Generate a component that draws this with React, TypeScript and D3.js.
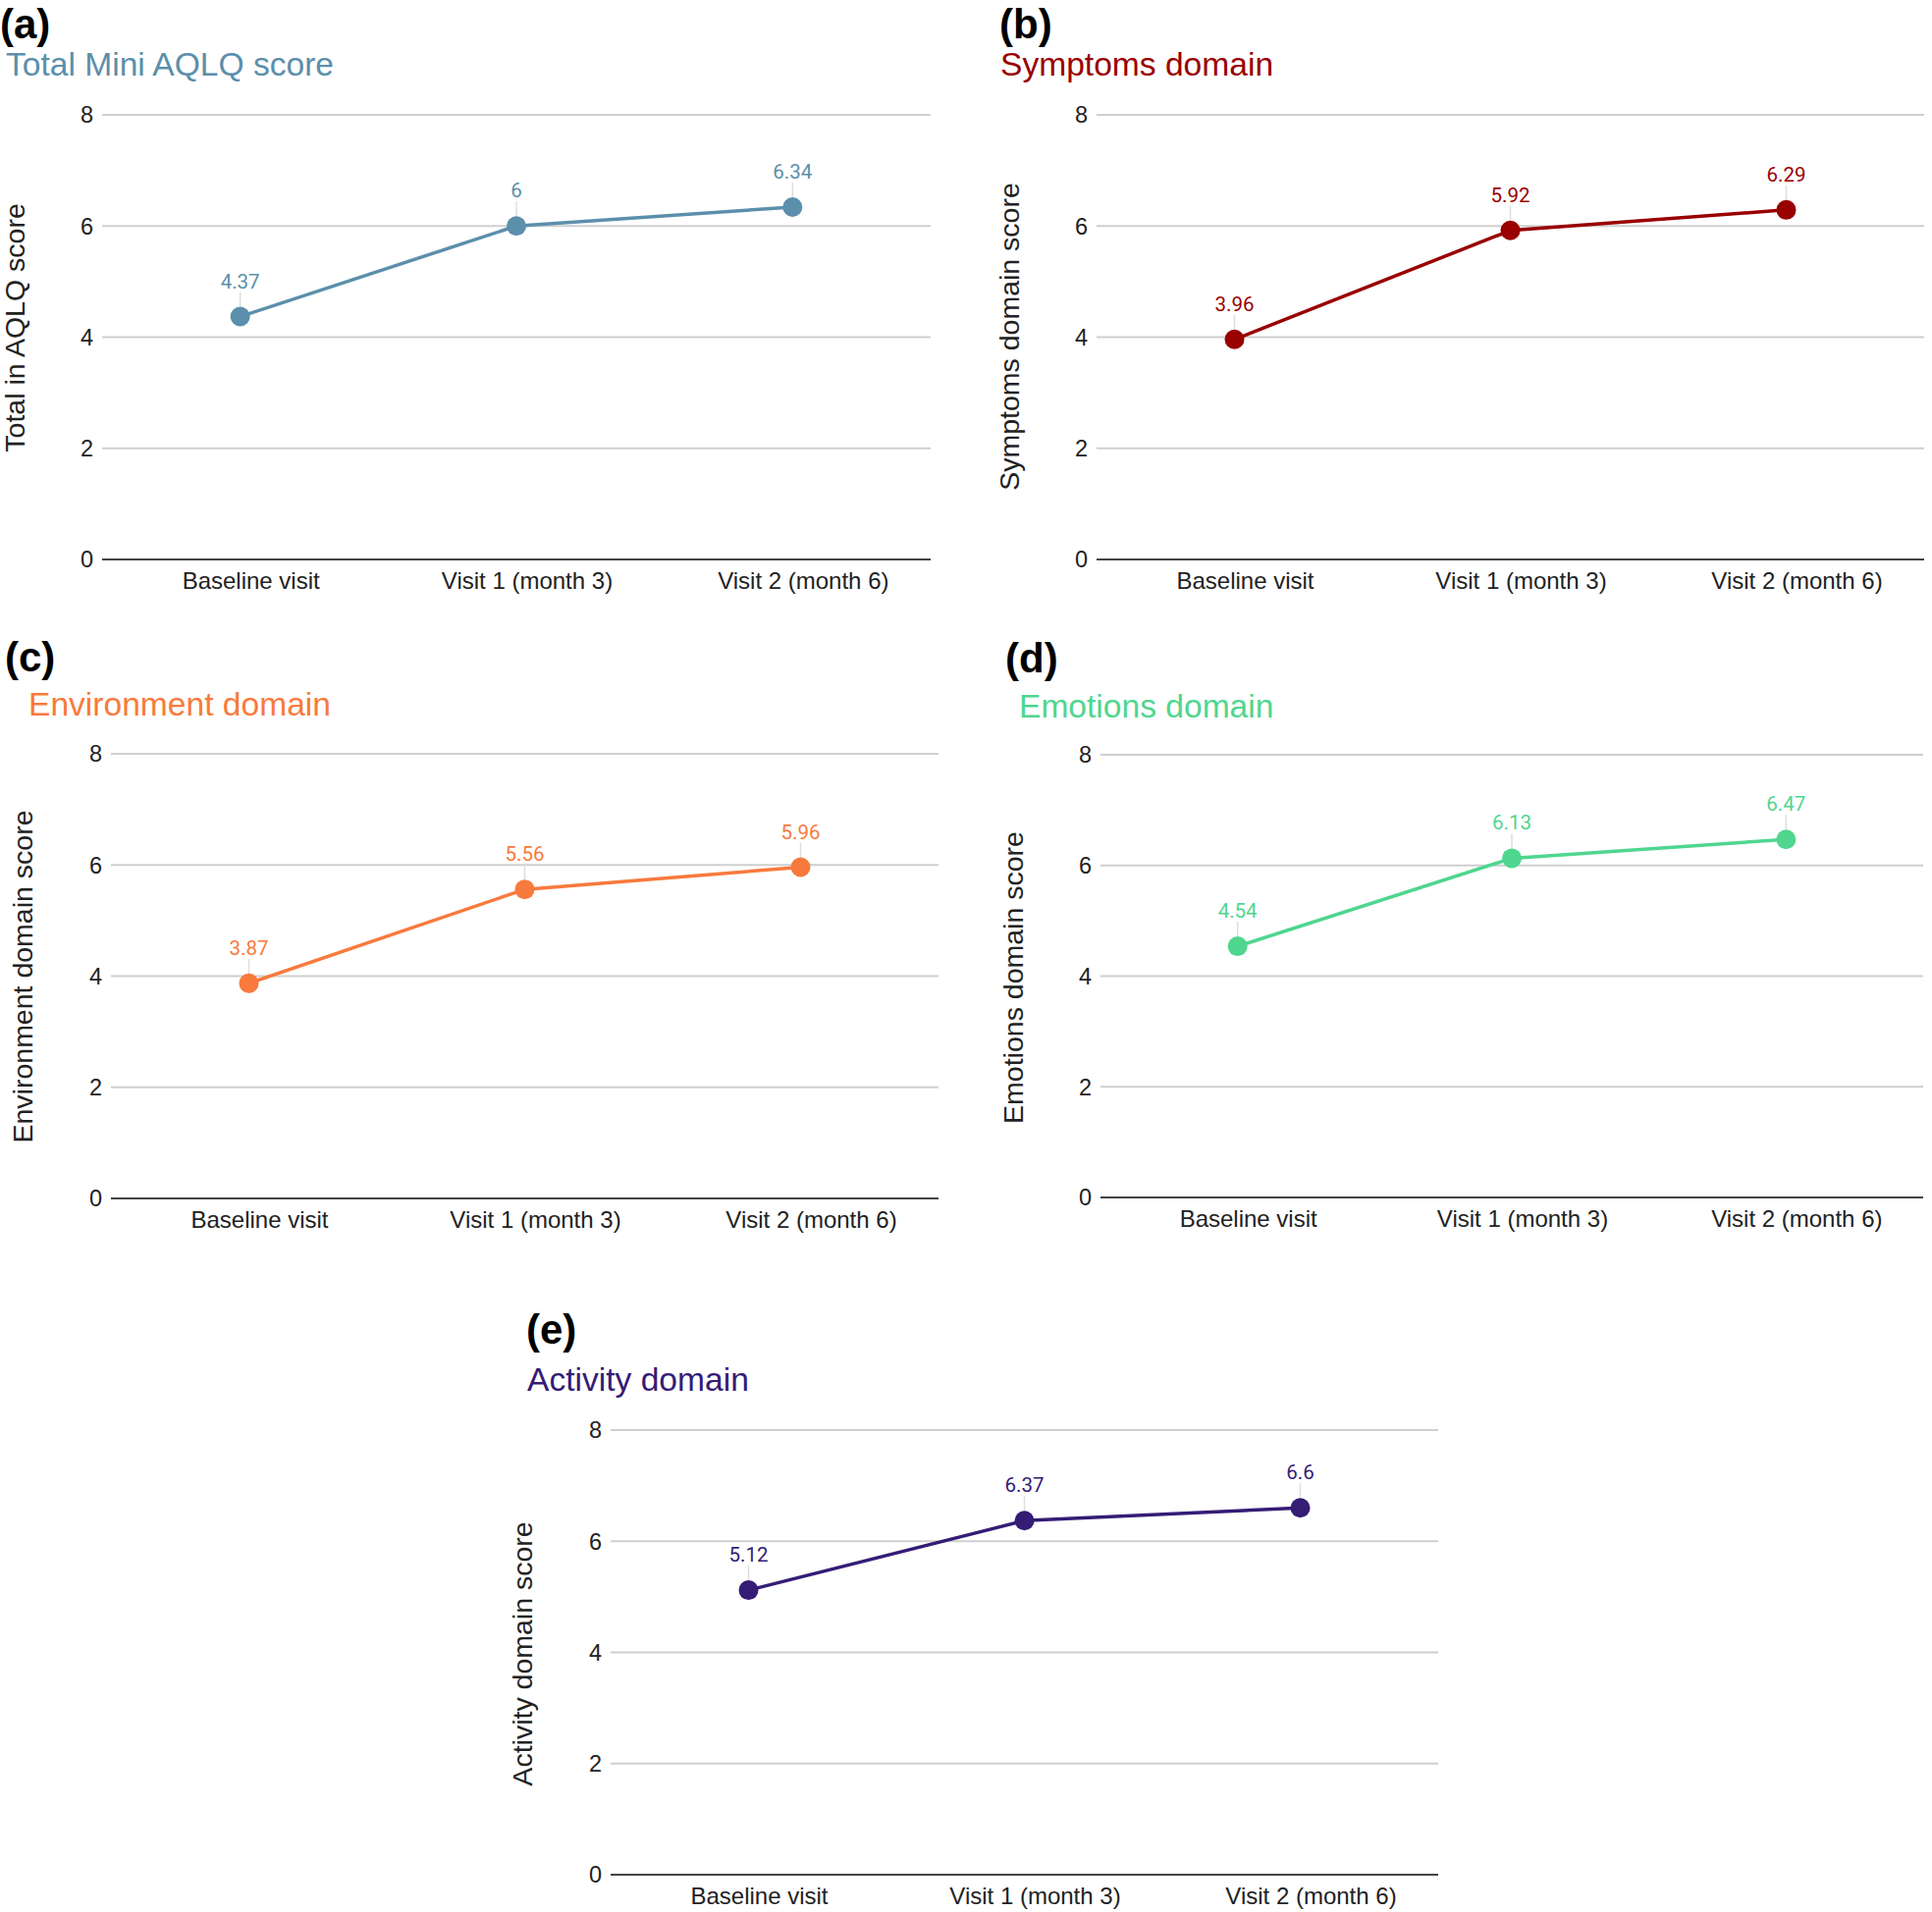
import React from "react";
import * as d3 from "d3";

const categories = ["Baseline visit", "Visit 1 (month 3)", "Visit 2 (month 6)"];
const yTicks = [0, 2, 4, 6, 8];
const yDomain = [0, 8];

const totalScore = [4.37, 6, 6.34];
const symptomsScore = [3.96, 5.92, 6.29];
const environmentScore = [3.87, 5.56, 5.96];
const emotionsScore = [4.54, 6.13, 6.47];
const activityScore = [5.12, 6.37, 6.6];

const totalLabels = ["4.37", "6", "6.34"];
const symptomsLabels = ["3.96", "5.92", "6.29"];
const environmentLabels = ["3.87", "5.56", "5.96"];
const emotionsLabels = ["4.54", "6.13", "6.47"];
const activityLabels = ["5.12", "6.37", "6.6"];

const panelLetters = ["(a)", "(b)", "(c)", "(d)", "(e)"];
const panelTitles = [
  "Total Mini AQLQ score",
  "Symptoms domain",
  "Environment domain",
  "Emotions domain",
  "Activity domain",
];
const axisTitles = [
  "Total in AQLQ score",
  "Symptoms domain score",
  "Environment domain score",
  "Emotions domain score",
  "Activity domain score",
];
const seriesColors = ["#5b8fab", "#990000", "#f87a3c", "#4fd68f", "#351c75"];

const seriesValues = [totalScore, symptomsScore, environmentScore, emotionsScore, activityScore];
const seriesLabels = [totalLabels, symptomsLabels, environmentLabels, emotionsLabels, activityLabels];

// layout (pixel positions of each panel)
const layouts = [
  { x0: 104, x1: 948, yTop: 117, yBot: 570, letterX: 0, letterY: 39, titleX: 6, titleY: 77, axisX: 25, axisY: 334 },
  { x0: 1117, x1: 1960, yTop: 117, yBot: 570, letterX: 1018, letterY: 39, titleX: 1019, titleY: 77, axisX: 1038, axisY: 343 },
  { x0: 113, x1: 956, yTop: 768, yBot: 1221, letterX: 5, letterY: 684, titleX: 29, titleY: 729, axisX: 33, axisY: 995 },
  { x0: 1121, x1: 1959, yTop: 769, yBot: 1220, letterX: 1024, letterY: 685, titleX: 1038, titleY: 731, axisX: 1042, axisY: 996 },
  { x0: 622, x1: 1465, yTop: 1457, yBot: 1910, letterX: 536, letterY: 1369, titleX: 537, titleY: 1417, axisX: 542, axisY: 1685 },
];

const ARIAL = "Arial, 'Liberation Sans', sans-serif";
const ROBOTO = "Roboto, 'Noto Sans', sans-serif";

function Panel({ idx }: { idx: number }) {
  const L = layouts[idx];
  const color = seriesColors[idx];
  const values = seriesValues[idx];
  const labels = seriesLabels[idx];
  const x = d3.scaleBand<string>().domain(categories).range([L.x0, L.x1]).padding(0);
  const y = d3.scaleLinear().domain(yDomain).range([L.yBot, L.yTop]);
  const cx = (c: string) => (x(c) as number) + x.bandwidth() / 2;
  const pts = categories.map((c, i) => [cx(c), y(values[i])] as [number, number]);
  const line = d3.line()(pts) as string;
  return (
    <g>
      <text x={L.letterX} y={L.letterY} fontFamily={ARIAL} fontWeight="bold" fontSize={42} fill="#000">
        {panelLetters[idx]}
      </text>
      <text x={L.titleX} y={L.titleY} fontFamily={ARIAL} fontSize={33.6} fill={color}>
        {panelTitles[idx]}
      </text>
      {yTicks.map((t) => (
        <g key={t}>
          <line
            x1={L.x0}
            x2={L.x1}
            y1={y(t)}
            y2={y(t)}
            stroke={t === 0 ? "#444" : "#cfcfcf"}
            strokeWidth={2}
          />
          <text
            x={L.x0 - 9}
            y={y(t)}
            dy="0.36em"
            textAnchor="end"
            fontFamily={ARIAL}
            fontSize={23.5}
            fill="#222"
          >
            {t}
          </text>
        </g>
      ))}
      {categories.map((c) => (
        <text
          key={c}
          x={cx(c) + 11}
          y={L.yBot + 30}
          textAnchor="middle"
          fontFamily={ARIAL}
          fontSize={24}
          fill="#222"
        >
          {c}
        </text>
      ))}
      <text
        transform={`translate(${L.axisX},${L.axisY}) rotate(-90)`}
        textAnchor="middle"
        fontFamily={ARIAL}
        fontSize={28.5}
        fill="#222"
      >
        {axisTitles[idx]}
      </text>
      {pts.map(([px, py], i) => (
        <line key={"l" + i} x1={px} x2={px} y1={py - 25} y2={py} stroke="#dedede" strokeWidth={1.5} />
      ))}
      <path d={line} fill="none" stroke={color} strokeWidth={3.5} />
      {pts.map(([px, py], i) => (
        <circle key={"c" + i} cx={px} cy={py} r={10} fill={color} />
      ))}
      {pts.map(([px, py], i) => (
        <text
          key={"t" + i}
          x={px}
          y={py - 29}
          textAnchor="middle"
          fontFamily={ROBOTO}
          fontSize={20.5}
          fill={color}
        >
          {labels[i]}
        </text>
      ))}
    </g>
  );
}

export default function App() {
  return (
    <svg
      width={1968}
      height={1948}
      style={{ position: "absolute", left: 0, top: 0, background: "#fff" }}
    >
      <rect x={0} y={0} width={1968} height={1948} fill="#fff" />
      {layouts.map((_, i) => (
        <Panel key={i} idx={i} />
      ))}
    </svg>
  );
}
